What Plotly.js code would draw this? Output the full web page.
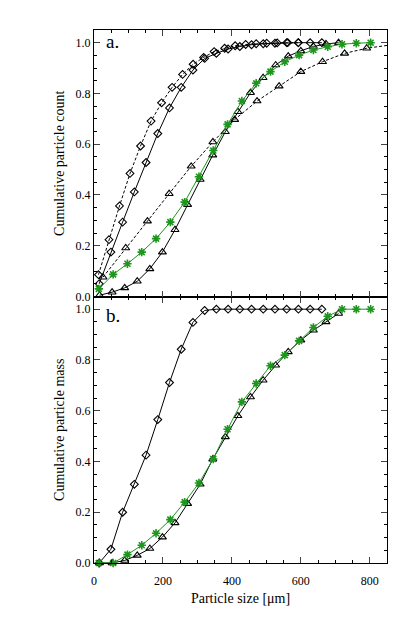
<!DOCTYPE html>
<html>
<head>
<meta charset="utf-8">
<script src="https://cdn.plot.ly/plotly-3.0.1.min.js"></script>
<style>body{margin:0;background:#fff;} #chart{width:415px;height:623px;}</style>
</head>
<body>
<div id="chart"></div>
<script>
// bin centres in micrometres, one list per curve family
var diamondX = [15, 49, 83, 117, 151, 185, 219, 253, 287, 321, 355, 389, 423, 457, 491, 525, 559, 593, 627, 661];
var diamondDashX = [13, 43.5, 74, 104.5, 135, 165.5, 196, 226.5, 257, 287.5, 318, 348.5, 379, 409.5, 440, 470.5, 501, 531.5, 562, 592.5];
var triX = [16, 52.5, 89, 125.5, 162, 198.5, 235, 271.5, 308, 344.5, 381, 417.5, 454, 490.5, 527, 563.5, 600, 636.5, 673, 709.5];
var triDashX = [26, 92, 155, 218, 282, 345, 408, 473, 537, 600, 663, 727, 791, 854];
var greenX = [14, 55.5, 97, 138.5, 180, 221.5, 263, 304.5, 346, 387.5, 429, 470.5, 512, 553.5, 595, 636.5, 678, 719.5, 761, 802.5];

// panel a: cumulative count
var diamondDashCount = [0.086, 0.224, 0.357, 0.485, 0.593, 0.691, 0.763, 0.824, 0.875, 0.915, 0.942, 0.965, 0.978, 0.988, 0.993, 0.996, 0.998, 0.999, 1.0, 1.0];
var diamondCount = [0.05, 0.175, 0.293, 0.412, 0.528, 0.642, 0.743, 0.824, 0.892, 0.938, 0.958, 0.975, 0.985, 0.992, 0.996, 0.998, 1.0, 1.0, 1.0, 1.0];
var triCount = [0.005, 0.017, 0.034, 0.06, 0.109, 0.175, 0.263, 0.362, 0.461, 0.557, 0.649, 0.728, 0.803, 0.862, 0.912, 0.947, 0.968, 0.985, 0.995, 1.0];
var triDashCount = [0.076, 0.191, 0.297, 0.405, 0.513, 0.609, 0.697, 0.77, 0.829, 0.886, 0.925, 0.958, 0.978, 0.99];
var greenCount = [0.03, 0.087, 0.129, 0.175, 0.228, 0.293, 0.372, 0.472, 0.575, 0.678, 0.77, 0.84, 0.886, 0.925, 0.951, 0.971, 0.984, 0.994, 0.998, 1.0];

// panel b: cumulative mass
var diamondMass = [0.0, 0.054, 0.2, 0.31, 0.425, 0.565, 0.711, 0.842, 0.948, 0.995, 1, 1, 1, 1, 1, 1, 1, 1, 1, 1];
var triMass = [0.0, 0.0, 0.01, 0.03, 0.057, 0.102, 0.158, 0.234, 0.31, 0.409, 0.497, 0.58, 0.654, 0.72, 0.779, 0.832, 0.878, 0.917, 0.95, 0.983];
var greenMass = [0.0, 0.0, 0.033, 0.07, 0.117, 0.171, 0.24, 0.315, 0.41, 0.527, 0.635, 0.707, 0.777, 0.819, 0.875, 0.928, 0.972, 1.0, 1.0, 1.0];

var green = 'rgb(30,150,30)';
var sizes = {'diamond-open': 6, 'triangle-up-open': 7, 'asterisk-open': 7};

function curve(x, y, sym, color, dash, xa, ya, clip) {
    return {
        x: x, y: y, xaxis: xa, yaxis: ya,
        type: 'scatter', mode: 'lines+markers', cliponaxis: clip,
        line: {color: color, width: 1, dash: dash},
        marker: {symbol: sym, size: sizes[sym], color: color,
                 line: {color: color, width: sym == 'asterisk-open' ? 1.6 : 1.1}}
    };
}

var data = [
    curve(diamondX, diamondMass, 'diamond-open', 'black', 'solid', 'x', 'y', false),
    curve(triX, triMass, 'triangle-up-open', 'black', 'solid', 'x', 'y', false),
    curve(greenX, greenMass, 'asterisk-open', green, 'solid', 'x', 'y', false),
    curve(diamondDashX, diamondDashCount, 'diamond-open', 'black', '3px,2px', 'x2', 'y2', false),
    curve(diamondX, diamondCount, 'diamond-open', 'black', 'solid', 'x2', 'y2', false),
    curve(triDashX, triDashCount, 'triangle-up-open', 'black', '3px,2px', 'x2', 'y2', true),
    curve(triX, triCount, 'triangle-up-open', 'black', 'solid', 'x2', 'y2', false),
    curve(greenX, greenCount, 'asterisk-open', green, 'solid', 'x2', 'y2', false)
];

var serif = 'Liberation Serif, DejaVu Serif, serif';
var font = {family: serif, size: 12, color: 'black'};

var xbase = {
    range: [0, 850], dtick: 200, ticks: 'inside', ticklen: 6, mirror: 'ticks',
    showline: true, linecolor: 'black', linewidth: 1, showgrid: false, zeroline: false,
    tickfont: {family: serif, size: 12},
    minor: {dtick: 50, ticks: 'inside', ticklen: 3, tickcolor: 'black'}
};
var ybase = {
    range: [0, 1.05], dtick: 0.2, tickformat: '.1f', ticks: 'inside', ticklen: 6, mirror: 'ticks',
    showline: true, linecolor: 'black', linewidth: 1, showgrid: false, zeroline: false,
    tickfont: {family: serif, size: 12},
    minor: {dtick: 0.05, ticks: 'inside', ticklen: 3, tickcolor: 'black'}
};

var layout = {
    width: 415, height: 623,
    margin: {l: 94, r: 28, t: 30, b: 60},
    font: font,
    showlegend: false,
    paper_bgcolor: 'white', plot_bgcolor: 'white',
    xaxis: Object.assign({}, xbase, {anchor: 'y', ticklabelstandoff: 7,
        title: {text: 'Particle size [\u03bcm]', font: {family: serif, size: 14}, standoff: 5}}),
    xaxis2: Object.assign({}, xbase, {anchor: 'y2', matches: 'x', showticklabels: false}),
    yaxis: Object.assign({}, ybase, {domain: [0, 0.5], anchor: 'x',
        title: {text: 'Cumulative particle mass', font: {family: serif, size: 14}, standoff: 7}}),
    yaxis2: Object.assign({}, ybase, {domain: [0.5, 1], anchor: 'x2',
        title: {text: 'Cumulative particle count', font: {family: serif, size: 14}, standoff: 7}}),
    annotations: [
        {text: 'a.', xref: 'x2', yref: 'y2', x: 28, y: 1.005, xanchor: 'left', yanchor: 'middle',
         showarrow: false, font: {family: serif, size: 19}},
        {text: 'b.', xref: 'x', yref: 'y', x: 28, y: 0.975, xanchor: 'left', yanchor: 'middle',
         showarrow: false, font: {family: serif, size: 19}}
    ]
};

Plotly.newPlot('chart', data, layout, {displayModeBar: false, staticPlot: true});
</script>
</body>
</html>
